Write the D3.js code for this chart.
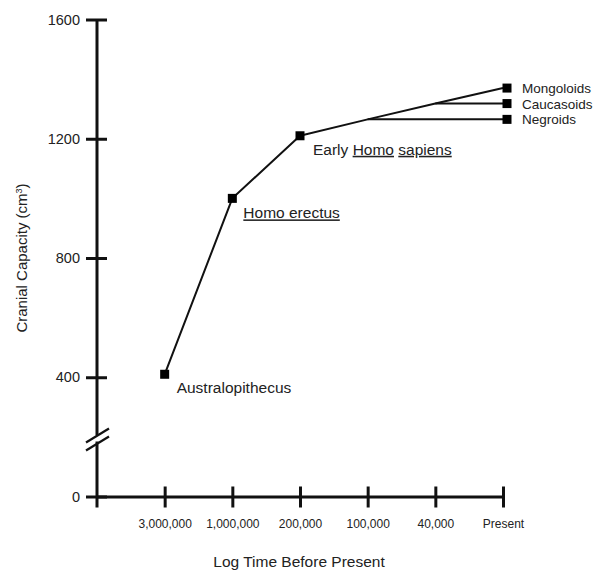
<!DOCTYPE html>
<html>
<head>
<meta charset="utf-8">
<script src="https://cdn.jsdelivr.net/npm/d3@7"></script>
<style>
  body { margin: 0; background: #fff; }
  text { font-family: "Liberation Sans", Arial, sans-serif; fill: #222; }
</style>
</head>
<body>
<div id="chart"></div>
<script>
var svgWidth = 602;
var svgHeight = 571;

// time slots on the log axis ("" is the origin slot)
var timeSlots = ["", "3,000,000", "1,000,000", "200,000", "100,000", "40,000", "Present"];
var yTicks = [0, 400, 800, 1200, 1600];

// main trend (fossil record)
var fossilTimes = ["3,000,000", "1,000,000", "200,000"];
var fossilValues = [410, 1000, 1210];
var fossilNames = ["Australopithecus", "Homo erectus", "Early Homo sapiens"];

// modern branches
var mongoloidTimes = ["200,000", "100,000", "40,000", "Present"];
var mongoloidValues = [1210, 1265, 1318, 1370];
var caucasoidTimes = ["40,000", "Present"];
var caucasoidValues = [1318, 1318];
var negroidTimes = ["100,000", "Present"];
var negroidValues = [1265, 1265];
var modernNames = ["Mongoloids", "Caucasoids", "Negroids"];
var modernValues = [1370, 1318, 1265];

var svg = d3.select("#chart")
    .append("svg")
    .attr("width", svgWidth)
    .attr("height", svgHeight);

var x = d3.scalePoint()
    .domain(timeSlots)
    .range([97, 503]);

var y = d3.scaleLinear()
    .domain([0, 1600])
    .range([496.5, 19.5]);

//x axis with crossing ticks
var xAxis = svg.append("g")
    .attr("transform", `translate(0, ${y(0)})`)
    .call(d3.axisBottom(x).tickValues(timeSlots.slice(1)).tickSize(0).tickPadding(23));
xAxis.select(".domain").attr("stroke", "#111").attr("stroke-width", 3);
xAxis.selectAll(".tick line")
    .attr("y1", -10).attr("y2", 11)
    .attr("stroke", "#111").attr("stroke-width", 3);
xAxis.selectAll(".tick text")
    .style("font-size", "12px")
    .attr("fill", "#333");

//y axis
var yAxis = svg.append("g")
    .attr("transform", `translate(${x("")}, 0)`)
    .call(d3.axisLeft(y).tickValues(yTicks).tickSize(0).tickPadding(17).tickFormat(d3.format("d")));
yAxis.select(".domain")
    .attr("d", `M0,${y(1600)}V${y(0) + 11}`)
    .attr("stroke", "#111").attr("stroke-width", 3);
yAxis.selectAll(".tick line")
    .attr("x1", -11).attr("x2", 10)
    .attr("stroke", "#111").attr("stroke-width", 3);
yAxis.selectAll(".tick text")
    .style("font-size", "14.5px")
    .attr("fill", "#333");

//axis break
var brk = svg.append("g").attr("transform", `translate(${x("")}, ${y(0) - 56})`);
brk.append("rect").attr("x", -4).attr("y", -5).attr("width", 8).attr("height", 6).attr("fill", "#fff");
brk.selectAll("line.brk")
    .data([-4, 4])
    .enter()
    .append("line")
    .attr("x1", -11).attr("x2", 12)
    .attr("y1", d => d + 6).attr("y2", d => d - 8)
    .attr("stroke", "#111").attr("stroke-width", 2.2);

//lines
var line = d3.line()
    .x(d => x(d[0]))
    .y(d => y(d[1]));

var series = [
    d3.zip(fossilTimes, fossilValues),
    d3.zip(mongoloidTimes, mongoloidValues),
    d3.zip(caucasoidTimes, caucasoidValues),
    d3.zip(negroidTimes, negroidValues)
];

svg.selectAll("path.series")
    .data(series)
    .enter()
    .append("path")
    .attr("class", "series")
    .attr("d", line)
    .attr("fill", "none")
    .attr("stroke", "#111")
    .attr("stroke-width", 2);

//markers
var markers = d3.zip(fossilTimes, fossilValues)
    .concat(modernValues.map(v => ["Present", v]));

svg.selectAll("rect.mark")
    .data(markers)
    .enter()
    .append("rect")
    .attr("class", "mark")
    .attr("x", d => x(d[0]) - 4.5 + (d[0] === "Present" ? 4 : 0))
    .attr("y", d => y(d[1]) - 4.5)
    .attr("width", 9)
    .attr("height", 9)
    .attr("fill", "#000");

//point labels
var lab1 = svg.append("text")
    .attr("x", x(fossilTimes[0]) + 12)
    .attr("y", y(fossilValues[0]) + 19)
    .style("font-size", "15.5px")
    .text(fossilNames[0]);

var lab2 = svg.append("text")
    .attr("x", x(fossilTimes[1]) + 11)
    .attr("y", y(fossilValues[1]) + 20)
    .style("font-size", "15.5px");
lab2.append("tspan").style("text-decoration", "underline").text("Homo erectus");

var lab3 = svg.append("text")
    .attr("x", x(fossilTimes[2]) + 13)
    .attr("y", y(fossilValues[2]) + 19)
    .style("font-size", "15.5px");
lab3.append("tspan").text("Early ");
lab3.append("tspan").style("text-decoration", "underline").text("Homo");
lab3.append("tspan").text(" ");
lab3.append("tspan").style("text-decoration", "underline").text("sapiens");

svg.selectAll("text.modern")
    .data(modernNames)
    .enter()
    .append("text")
    .attr("class", "modern")
    .attr("x", x("Present") + 19)
    .attr("y", (d, i) => y(modernValues[i]) + 5)
    .style("font-size", "13.5px")
    .text(d => d);

//axis titles
svg.append("text")
    .attr("x", 299)
    .attr("y", 567)
    .attr("text-anchor", "middle")
    .style("font-size", "15.5px")
    .text("Log Time Before Present");

var yt = svg.append("text")
    .attr("transform", `translate(27, ${y(800)}) rotate(-90)`)
    .attr("text-anchor", "middle")
    .attr("fill", "#222")
    .style("font-size", "15px");
yt.append("tspan").text("Cranial Capacity (cm");
yt.append("tspan").attr("dy", -5).style("font-size", "9px").text("3");
yt.append("tspan").attr("dy", 5).text(")");
</script>
</body>
</html>
